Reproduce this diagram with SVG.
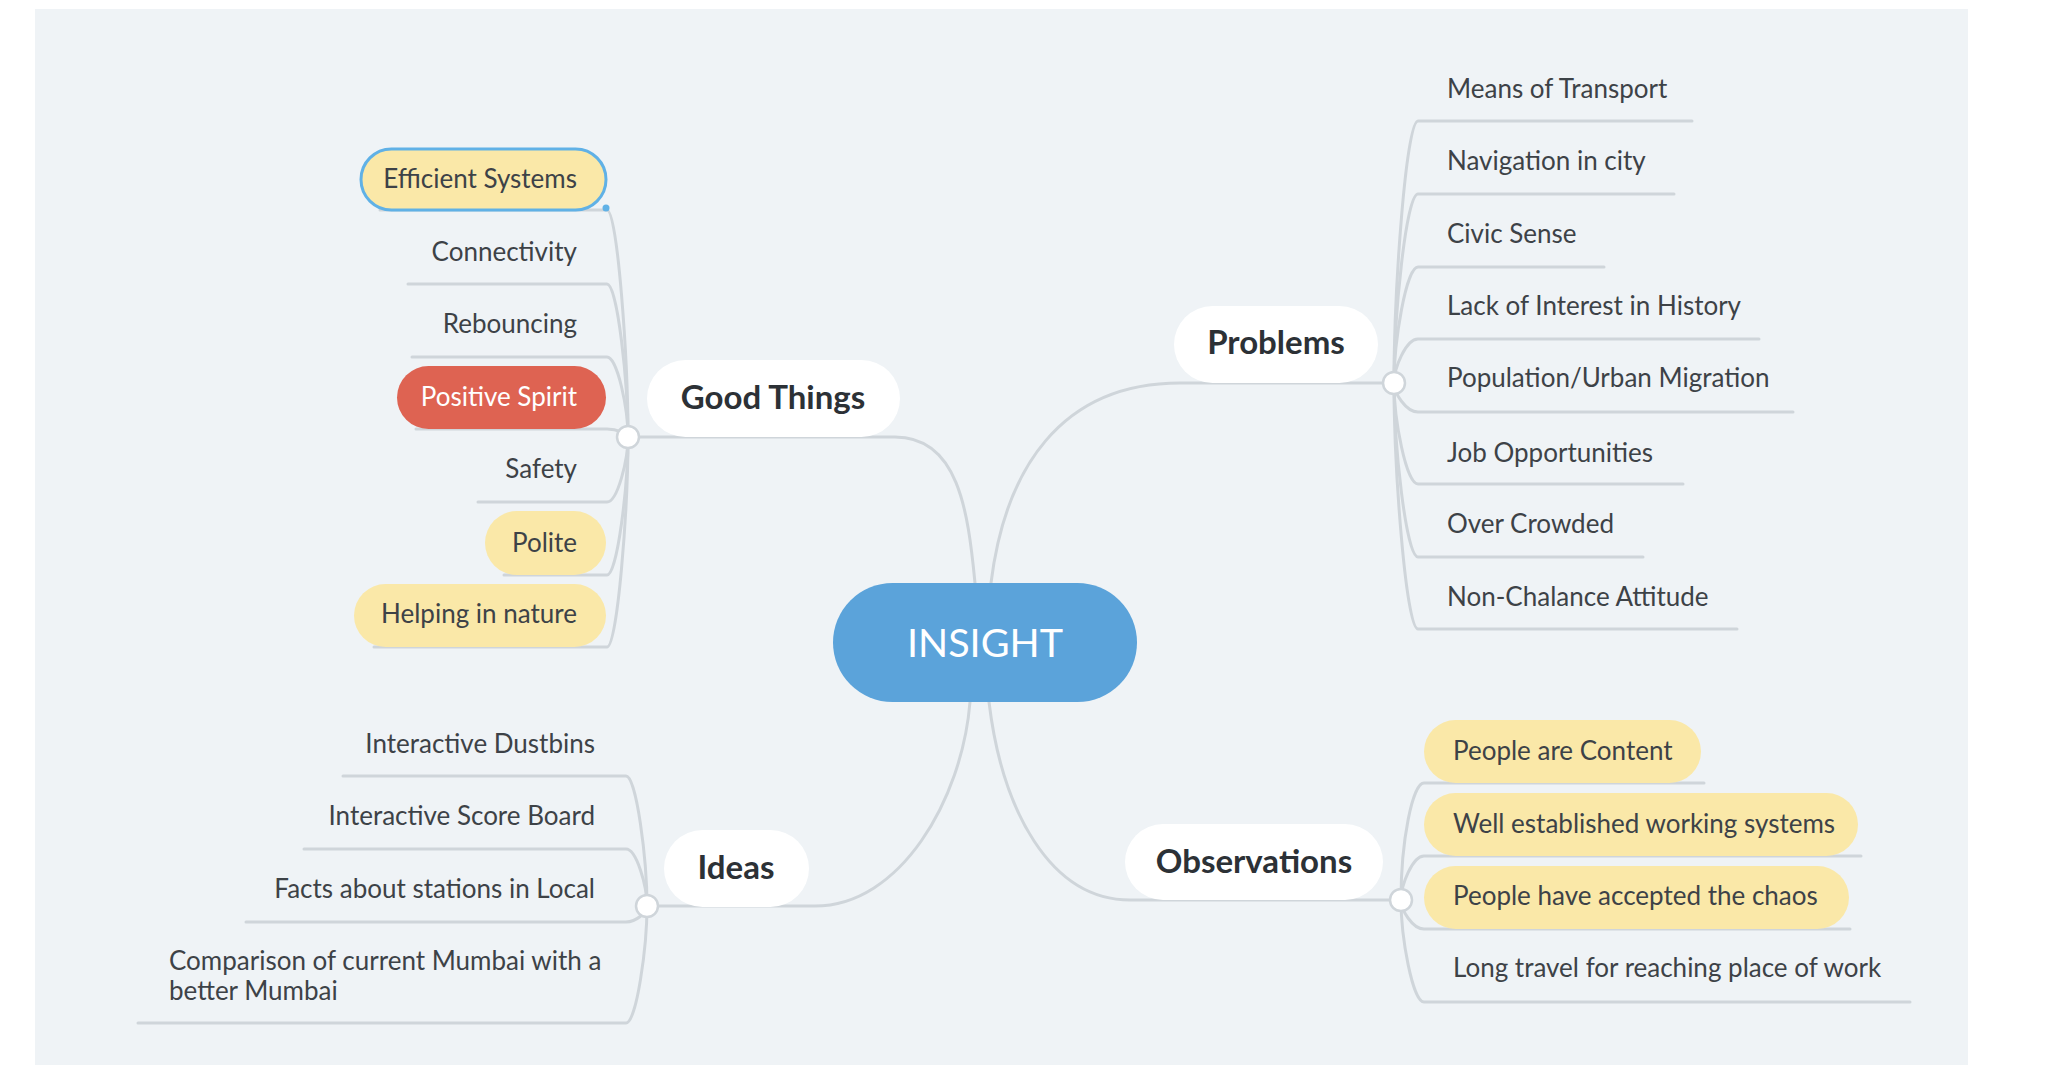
<svg xmlns="http://www.w3.org/2000/svg" width="2062" height="1082" viewBox="0 0 2062 1082">
<defs>
<style>
.bg{fill:#eff3f6}
.ln{fill:none;stroke:#cfd5da;stroke-width:3;stroke-linecap:round}
.hub{fill:#ffffff;stroke:#cfd5da;stroke-width:2.5}
.t{font-family:Lato,"Liberation Sans",sans-serif;font-size:26px;fill:#3d4247}
.tw{font-family:Lato,"Liberation Sans",sans-serif;font-size:26px;fill:#ffffff}
.main{font-family:Lato,"Liberation Sans",sans-serif;font-size:33px;font-weight:700;fill:#2c3136}
.topic{fill:#ffffff}
.yel{fill:#fae8a8}
.red{fill:#de6352}
.e{text-anchor:end}
.m{text-anchor:middle}
</style>
</defs>
<rect x="0" y="0" width="2062" height="1082" fill="#ffffff"/>
<rect class="bg" x="35" y="9" width="1933" height="1056"/>

<g id="connectors">
<path class="ln" d="M628 437 L895 437 C958 437 968 510 975 583"/>
<path class="ln" d="M991 583 C1005 470 1060 383 1180 383 L1394 383"/>
<path class="ln" d="M970 702 C962 800 900 906 815 906 L647 906"/>
<path class="ln" d="M989 702 C1002 810 1050 900 1130 900 L1401 900"/>
<path class="ln" d="M380 210 L607 210 C617.5 210 628 358 628 437"/>
<path class="ln" d="M408 284 L607 284 C617.5 284 628 383 628 437"/>
<path class="ln" d="M412 357 L607 357 C617.5 357 628 409 628 437"/>
<path class="ln" d="M416 429 L607 429 C617.5 429 628 434 628 437"/>
<path class="ln" d="M478 502 L607 502 C617.5 502 628 460 628 437"/>
<path class="ln" d="M504 575 L607 575 C617.5 575 628 485 628 437"/>
<path class="ln" d="M374 647 L607 647 C617.5 647 628 510 628 437"/>
<path class="ln" d="M1692 121 L1418 121 C1406 121 1394 290 1394 383"/>
<path class="ln" d="M1674 194 L1418 194 C1406 194 1394 317 1394 383"/>
<path class="ln" d="M1604 267 L1418 267 C1406 267 1394 342 1394 383"/>
<path class="ln" d="M1759 339 L1418 339 C1406 339 1394 368 1394 383"/>
<path class="ln" d="M1793 412 L1418 412 C1406 412 1394 393 1394 383"/>
<path class="ln" d="M1683 484 L1418 484 C1406 484 1394 419 1394 383"/>
<path class="ln" d="M1643 557 L1418 557 C1406 557 1394 444 1394 383"/>
<path class="ln" d="M1737 629 L1418 629 C1406 629 1394 470 1394 383"/>
<path class="ln" d="M343 776 L626 776 C636.5 776 647 860 647 906"/>
<path class="ln" d="M304 849 L626 849 C636.5 849 647 886 647 906"/>
<path class="ln" d="M246 922 L626 922 C636.5 922 647 912 647 906"/>
<path class="ln" d="M138 1023 L626 1023 C636.5 1023 647 947 647 906"/>
<path class="ln" d="M1704 783 L1424 783 C1412.5 783 1401 841 1401 900"/>
<path class="ln" d="M1861 856 L1424 856 C1412.5 856 1401 885 1401 900"/>
<path class="ln" d="M1850 929 L1424 929 C1412.5 929 1401 910 1401 900"/>
<path class="ln" d="M1910 1002 L1424 1002 C1412.5 1002 1401 937 1401 900"/>
</g>

<g id="insight">
<rect x="833" y="583" width="304" height="119" rx="59.5" fill="#5ba3da"/>
<text x="985" y="657" class="m" font-family="Lato,'Liberation Sans',sans-serif" font-size="39.5" fill="#ffffff">INSIGHT</text>
</g>

<g id="good-things">
<rect class="topic" x="647" y="360" width="253" height="77" rx="38.5"/>
<text class="main m" x="773" y="409">Good Things</text>
<circle class="hub" cx="628" cy="437" r="11"/>
</g>
<g id="problems">
<rect class="topic" x="1174" y="306" width="204" height="77" rx="38.5"/>
<text class="main m" x="1276" y="354">Problems</text>
<circle class="hub" cx="1394" cy="383" r="11"/>
</g>
<g id="ideas">
<rect class="topic" x="664" y="830" width="145" height="77" rx="38.5"/>
<text class="main m" x="736" y="879">Ideas</text>
<circle class="hub" cx="647" cy="906" r="11"/>
</g>
<g id="observations">
<rect class="topic" x="1125" y="824" width="258" height="76" rx="38"/>
<text class="main m" x="1254" y="873">Observations</text>
<circle class="hub" cx="1401" cy="900" r="11"/>
</g>

<g id="efficient-systems">
<rect class="yel" x="361" y="149" width="245" height="61" rx="30.5" stroke="#60b1e6" stroke-width="3"/>
<circle cx="606" cy="208" r="3.5" fill="#60b1e6"/>
<text class="t e" x="577" y="188">Efficient Systems</text>
</g>
<g id="connectivity"><text class="t e" x="577" y="261">Connectivity</text></g>
<g id="rebouncing"><text class="t e" x="577" y="333">Rebouncing</text></g>
<g id="positive-spirit">
<rect class="red" x="397" y="366" width="209" height="63" rx="31.5"/>
<text class="tw e" x="577" y="406">Positive Spirit</text>
</g>
<g id="safety"><text class="t e" x="577" y="478">Safety</text></g>
<g id="polite">
<rect class="yel" x="485" y="511" width="121" height="64" rx="32"/>
<text class="t e" x="577" y="552">Polite</text>
</g>
<g id="helping-in-nature">
<rect class="yel" x="354" y="584" width="252" height="63" rx="31.5"/>
<text class="t e" x="577" y="623">Helping in nature</text>
</g>

<g id="means-of-transport"><text class="t" x="1447" y="98">Means of Transport</text></g>
<g id="navigation-in-city"><text class="t" x="1447" y="170">Navigation in city</text></g>
<g id="civic-sense"><text class="t" x="1447" y="243">Civic Sense</text></g>
<g id="lack-of-interest"><text class="t" x="1447" y="315">Lack of Interest in History</text></g>
<g id="population"><text class="t" x="1447" y="387">Population/Urban Migration</text></g>
<g id="job-opportunities"><text class="t" x="1447" y="462">Job Opportunities</text></g>
<g id="over-crowded"><text class="t" x="1447" y="533">Over Crowded</text></g>
<g id="non-chalance"><text class="t" x="1447" y="606">Non-Chalance Attitude</text></g>

<g id="interactive-dustbins"><text class="t e" x="595" y="753">Interactive Dustbins</text></g>
<g id="interactive-score-board"><text class="t e" x="595" y="825">Interactive Score Board</text></g>
<g id="facts-about-stations"><text class="t e" x="595" y="898">Facts about stations in Local</text></g>
<g id="comparison">
<text class="t" x="169" y="970">Comparison of current Mumbai with a</text>
<text class="t" x="169" y="1000">better Mumbai</text>
</g>

<g id="people-are-content">
<rect class="yel" x="1424" y="720" width="277" height="63" rx="31.5"/>
<text class="t" x="1453" y="760">People are Content</text>
</g>
<g id="well-established">
<rect class="yel" x="1424" y="793" width="434" height="63" rx="31.5"/>
<text class="t" x="1453" y="833">Well established working systems</text>
</g>
<g id="accepted-chaos">
<rect class="yel" x="1424" y="866" width="425" height="63" rx="31.5"/>
<text class="t" x="1453" y="905">People have accepted the chaos</text>
</g>
<g id="long-travel"><text class="t" x="1453" y="977">Long travel for reaching place of work</text></g>
</svg>
